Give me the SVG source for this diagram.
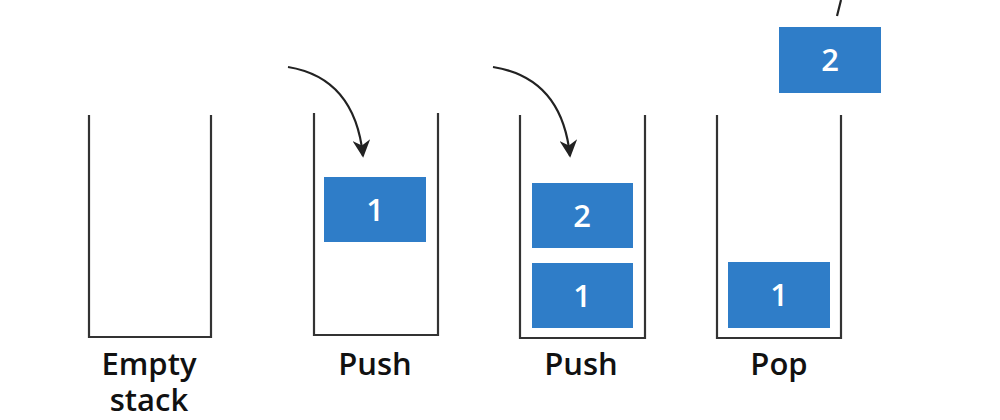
<svg xmlns="http://www.w3.org/2000/svg" width="1000" height="420" viewBox="0 0 1000 420">
<defs>
<style>
.wall{fill:none;stroke:#333;stroke-width:2.2;stroke-linejoin:miter}
.box{fill:#2f7dc8}
.num{font-family:"Open Sans","Noto Sans",sans-serif;font-size:31px;font-weight:600;fill:#fff;text-anchor:middle}
.lbl{font-family:"Open Sans","Noto Sans",sans-serif;font-size:31px;font-weight:600;fill:#111;text-anchor:middle}
.arr{fill:none;stroke:#222;stroke-width:2.2}
</style>
<marker id="ah" viewBox="0 0 10 10" refX="9" refY="5" markerWidth="8" markerHeight="8" markerUnits="strokeWidth" orient="auto">
<path d="M0,0 L10,5 L0,10 L3,5 z" fill="#222"/>
</marker>
</defs>
<rect width="1000" height="420" fill="#fff"/>
<g id="stack-empty">
<path class="wall" d="M89,115 V337 H211 V115"/>
<text class="lbl" x="149" y="375">Empty</text>
<text class="lbl" x="149" y="411">stack</text>
</g>
<g id="stack-push1">
<path class="wall" d="M314,113 V335 H438 V113"/>
<rect class="box" x="324" y="177" width="102" height="65"/>
<text class="num" x="375" y="221">1</text>
<text class="lbl" x="375" y="375">Push</text>
</g>
<g id="stack-push2">
<path class="wall" d="M520,115 V338 H645 V115"/>
<rect class="box" x="532" y="183" width="101" height="65"/>
<text class="num" x="582" y="227">2</text>
<rect class="box" x="532" y="263" width="101" height="65"/>
<text class="num" x="582" y="307">1</text>
<text class="lbl" x="581" y="375">Push</text>
</g>
<g id="stack-pop">
<path class="wall" d="M717,115 V338 H841 V115"/>
<rect class="box" x="728" y="262" width="102" height="66"/>
<text class="num" x="779" y="306">1</text>
<rect class="box" x="779" y="27" width="102" height="66"/>
<text class="num" x="830" y="71">2</text>
<text class="lbl" x="779" y="375">Pop</text>
</g>
<g id="connectors">
<path class="arr" d="M288,67 Q355,78 363,156" marker-end="url(#ah)"/>
<path class="arr" d="M493,67 Q562,78 570,156" marker-end="url(#ah)"/>
<path class="arr" d="M837,16 L841,0"/>
</g>
</svg>
